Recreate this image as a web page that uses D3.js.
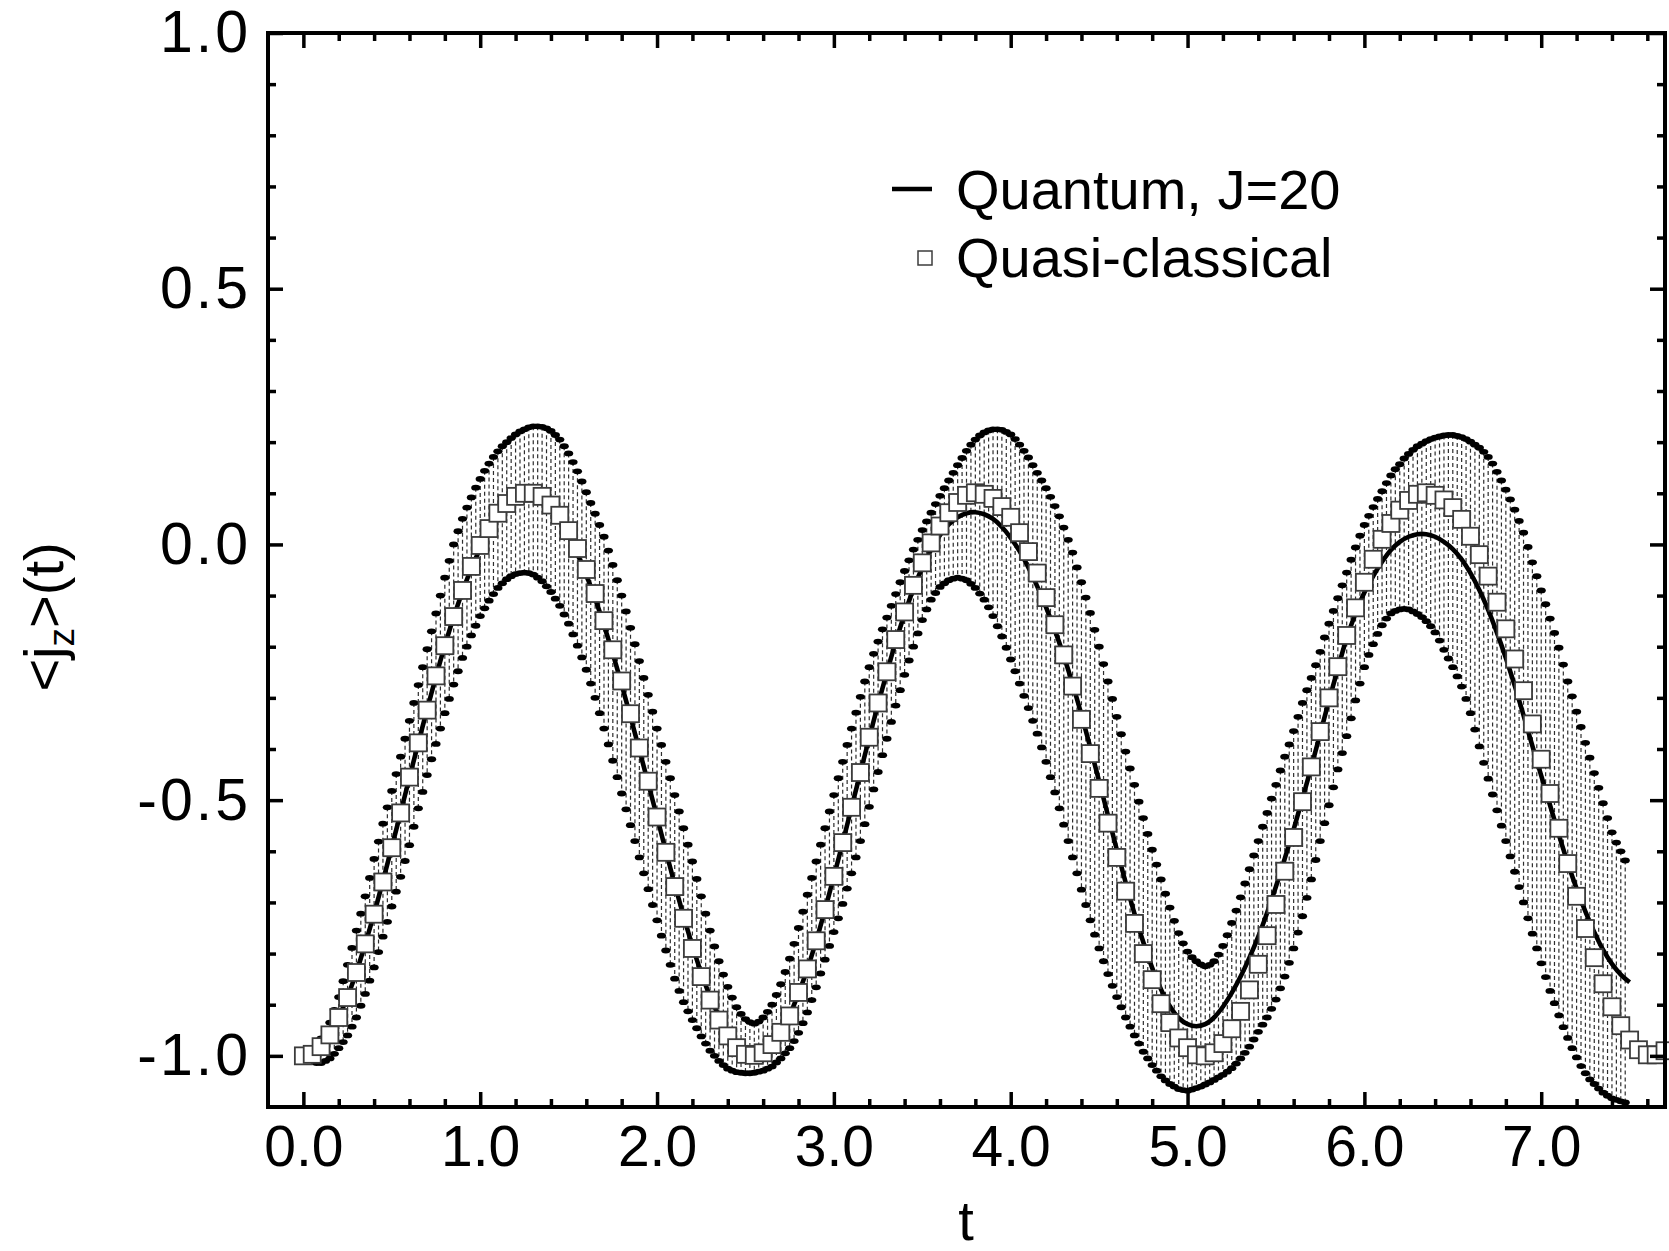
<!DOCTYPE html>
<html>
<head>
<meta charset="utf-8">
<script src="https://cdn.jsdelivr.net/npm/d3@7"></script>
<style>
  html, body { margin: 0; padding: 0; background: #fff; }
  svg { display: block; }
</style>
</head>
<body>
<div id="chart"></div>
<script>
'use strict';

/**
 * Time grids (in units of t).
 */
const lineStep = 0.05;                 // quantum curve and quasi-classical squares
const bandStart = 0.025, bandStep = 0.025;

/**
 * Quantum, J=20 : t = 0 .. 7.5
 */
const quantum = [
  -1.0,-0.997,-0.982,-0.958,-0.924,-0.884,-0.836,-0.781,-0.722,-0.658,-0.592,-0.524,-0.456,-0.388,-0.322,-0.258,-0.198,-0.142,-0.092,-0.047,
  -0.008,0.025,0.052,0.071,0.083,0.089,0.088,0.081,0.066,0.045,0.016,-0.019,-0.06,-0.106,-0.158,-0.214,-0.274,-0.337,-0.402,-0.467,
  -0.533,-0.6,-0.665,-0.727,-0.785,-0.838,-0.884,-0.922,-0.953,-0.975,-0.988,-0.99,-0.985,-0.972,-0.95,-0.92,-0.878,-0.83,-0.775,-0.714,
  -0.649,-0.583,-0.514,-0.446,-0.378,-0.312,-0.25,-0.19,-0.136,-0.087,-0.045,-0.01,0.018,0.039,0.053,0.061,0.063,0.059,0.05,0.034,
  0.013,-0.013,-0.045,-0.082,-0.123,-0.168,-0.218,-0.273,-0.333,-0.397,-0.463,-0.53,-0.597,-0.661,-0.722,-0.778,-0.828,-0.87,-0.903,-0.926,
  -0.938,-0.942,-0.938,-0.925,-0.904,-0.877,-0.845,-0.808,-0.767,-0.72,-0.669,-0.614,-0.557,-0.497,-0.435,-0.37,-0.305,-0.243,-0.183,-0.135,
  -0.094,-0.062,-0.034,-0.011,0.005,0.015,0.02,0.02,0.015,0.005,-0.009,-0.029,-0.056,-0.089,-0.128,-0.173,-0.222,-0.276,-0.334,-0.394,
  -0.452,-0.51,-0.568,-0.623,-0.673,-0.718,-0.758,-0.793,-0.82,-0.841,-0.856
];

/**
 * Quasi-classical : t = 0 .. 7.7
 */
const quasiClassical = [
  -1.0,-0.997,-0.982,-0.959,-0.925,-0.886,-0.837,-0.781,-0.723,-0.66,-0.593,-0.525,-0.455,-0.388,-0.324,-0.257,-0.198,-0.141,-0.09,-0.043,
  -0.002,0.031,0.061,0.08,0.094,0.1,0.1,0.094,0.077,0.057,0.027,-0.008,-0.049,-0.096,-0.149,-0.206,-0.267,-0.331,-0.398,-0.463,
  -0.533,-0.602,-0.669,-0.731,-0.79,-0.845,-0.891,-0.93,-0.961,-0.984,-0.997,-0.999,-0.994,-0.978,-0.954,-0.922,-0.876,-0.83,-0.775,-0.714,
  -0.649,-0.583,-0.514,-0.446,-0.377,-0.31,-0.249,-0.186,-0.132,-0.08,-0.036,0.003,0.036,0.062,0.082,0.096,0.101,0.098,0.09,0.074,
  0.053,0.023,-0.014,-0.056,-0.104,-0.157,-0.216,-0.277,-0.342,-0.409,-0.477,-0.545,-0.612,-0.678,-0.741,-0.8,-0.851,-0.898,-0.935,-0.965,
  -0.984,-0.998,-1.0,-0.994,-0.976,-0.947,-0.913,-0.871,-0.821,-0.765,-0.704,-0.639,-0.573,-0.503,-0.435,-0.366,-0.3,-0.239,-0.178,-0.124,
  -0.074,-0.029,0.01,0.041,0.067,0.086,0.098,0.101,0.096,0.087,0.072,0.049,0.016,-0.02,-0.062,-0.113,-0.165,-0.224,-0.286,-0.351,
  -0.42,-0.487,-0.555,-0.624,-0.688,-0.751,-0.808,-0.859,-0.904,-0.941,-0.969,-0.988,-0.998,-0.998,-0.99
];

/**
 * Spread band, upper and lower ends : t = 0.025 .. 7.475
 */
const bandUpper = [
  -0.996,-0.99,-0.978,-0.966,-0.951,-0.935,-0.91,-0.885,-0.854,-0.822,-0.789,-0.755,-0.722,-0.688,-0.652,-0.615,-0.581,-0.546,-0.514,-0.482,
  -0.449,-0.415,-0.38,-0.345,-0.31,-0.275,-0.24,-0.205,-0.17,-0.135,-0.1,-0.065,-0.032,0.0,0.026,0.05,0.072,0.092,0.111,0.128,
  0.144,0.158,0.171,0.182,0.192,0.2,0.208,0.215,0.221,0.225,0.229,0.231,0.231,0.23,0.227,0.222,0.214,0.205,0.192,0.178,
  0.161,0.143,0.123,0.102,0.081,0.06,0.038,0.015,-0.012,-0.04,-0.07,-0.1,-0.131,-0.163,-0.195,-0.228,-0.261,-0.294,-0.327,-0.36,
  -0.392,-0.425,-0.457,-0.49,-0.522,-0.555,-0.587,-0.62,-0.654,-0.688,-0.722,-0.755,-0.786,-0.815,-0.841,-0.865,-0.886,-0.905,-0.918,-0.928,
  -0.934,-0.937,-0.933,-0.925,-0.914,-0.9,-0.881,-0.86,-0.836,-0.81,-0.781,-0.75,-0.718,-0.685,-0.652,-0.62,-0.587,-0.555,-0.522,-0.49,
  -0.457,-0.425,-0.392,-0.36,-0.329,-0.298,-0.268,-0.24,-0.214,-0.19,-0.166,-0.143,-0.12,-0.097,-0.074,-0.052,-0.031,-0.01,0.009,0.028,
  0.045,0.062,0.079,0.095,0.11,0.125,0.14,0.155,0.169,0.183,0.195,0.205,0.213,0.219,0.223,0.225,0.225,0.224,0.22,0.215,
  0.206,0.195,0.183,0.17,0.155,0.14,0.125,0.11,0.093,0.075,0.055,0.033,0.009,-0.016,-0.045,-0.074,-0.104,-0.134,-0.167,-0.2,
  -0.234,-0.268,-0.302,-0.337,-0.371,-0.405,-0.438,-0.47,-0.503,-0.535,-0.566,-0.597,-0.626,-0.655,-0.683,-0.71,-0.736,-0.76,-0.78,-0.796,
  -0.807,-0.815,-0.821,-0.825,-0.822,-0.815,-0.802,-0.785,-0.764,-0.74,-0.716,-0.69,-0.663,-0.635,-0.608,-0.58,-0.552,-0.525,-0.497,-0.47,
  -0.442,-0.415,-0.391,-0.365,-0.337,-0.31,-0.285,-0.261,-0.236,-0.21,-0.182,-0.155,-0.13,-0.105,-0.08,-0.055,-0.03,-0.006,0.017,0.038,
  0.056,0.073,0.089,0.104,0.12,0.135,0.147,0.157,0.168,0.177,0.185,0.192,0.197,0.202,0.206,0.209,0.211,0.213,0.214,0.214,
  0.212,0.21,0.206,0.201,0.195,0.189,0.181,0.171,0.158,0.142,0.125,0.107,0.088,0.068,0.046,0.023,-0.005,-0.035,-0.062,-0.09,
  -0.117,-0.145,-0.173,-0.202,-0.235,-0.268,-0.297,-0.327,-0.357,-0.388,-0.417,-0.447,-0.476,-0.506,-0.535,-0.563,-0.583,-0.6,-0.618
];

const bandLower = [
  -1.006,-1.012,-1.014,-1.014,-1.01,-1.005,-0.996,-0.985,-0.973,-0.96,-0.943,-0.925,-0.902,-0.879,-0.853,-0.827,-0.797,-0.767,-0.738,-0.708,
  -0.679,-0.65,-0.619,-0.588,-0.552,-0.516,-0.484,-0.451,-0.42,-0.39,-0.36,-0.33,-0.302,-0.274,-0.248,-0.222,-0.2,-0.178,-0.159,-0.14,
  -0.125,-0.11,-0.097,-0.085,-0.076,-0.068,-0.062,-0.058,-0.056,-0.055,-0.056,-0.059,-0.065,-0.072,-0.082,-0.093,-0.106,-0.12,-0.137,-0.155,
  -0.176,-0.198,-0.221,-0.245,-0.272,-0.3,-0.33,-0.36,-0.391,-0.423,-0.455,-0.487,-0.518,-0.549,-0.58,-0.612,-0.643,-0.674,-0.705,-0.735,
  -0.765,-0.794,-0.822,-0.849,-0.873,-0.895,-0.913,-0.93,-0.946,-0.962,-0.976,-0.99,-1.0,-1.01,-1.018,-1.025,-1.029,-1.032,-1.033,-1.034,
  -1.034,-1.033,-1.031,-1.029,-1.025,-1.021,-1.013,-1.005,-0.995,-0.985,-0.971,-0.955,-0.936,-0.915,-0.891,-0.866,-0.839,-0.812,-0.785,-0.758,
  -0.731,-0.703,-0.673,-0.643,-0.612,-0.58,-0.547,-0.513,-0.479,-0.445,-0.412,-0.38,-0.347,-0.315,-0.285,-0.255,-0.227,-0.2,-0.174,-0.148,
  -0.127,-0.108,-0.095,-0.083,-0.076,-0.07,-0.067,-0.065,-0.067,-0.07,-0.077,-0.085,-0.096,-0.108,-0.123,-0.14,-0.16,-0.18,-0.202,-0.225,
  -0.248,-0.272,-0.296,-0.32,-0.345,-0.37,-0.397,-0.425,-0.455,-0.485,-0.516,-0.548,-0.58,-0.612,-0.643,-0.675,-0.705,-0.735,-0.763,-0.79,
  -0.815,-0.84,-0.863,-0.885,-0.905,-0.925,-0.943,-0.96,-0.976,-0.992,-1.005,-1.018,-1.029,-1.04,-1.048,-1.055,-1.06,-1.065,-1.067,-1.068,
  -1.066,-1.063,-1.06,-1.056,-1.052,-1.047,-1.042,-1.037,-1.031,-1.024,-1.015,-1.005,-0.994,-0.982,-0.968,-0.953,-0.939,-0.925,-0.908,-0.89,
  -0.868,-0.845,-0.818,-0.79,-0.759,-0.727,-0.691,-0.655,-0.617,-0.58,-0.545,-0.51,-0.475,-0.44,-0.408,-0.375,-0.34,-0.305,-0.272,-0.24,
  -0.216,-0.195,-0.175,-0.158,-0.145,-0.135,-0.13,-0.127,-0.126,-0.127,-0.131,-0.136,-0.142,-0.15,-0.16,-0.172,-0.188,-0.206,-0.223,-0.24,
  -0.258,-0.278,-0.302,-0.33,-0.362,-0.395,-0.427,-0.458,-0.489,-0.52,-0.55,-0.58,-0.61,-0.64,-0.67,-0.7,-0.731,-0.761,-0.79,-0.819,
  -0.846,-0.873,-0.897,-0.921,-0.944,-0.965,-0.985,-1.003,-1.02,-1.034,-1.046,-1.055,-1.064,-1.072,-1.078,-1.083,-1.086,-1.089,-1.091
];

/**
 * Axes ticks and labels.
 */
const xTicks = [0, 1, 2, 3, 4, 5, 6, 7];
const xTickLabels = ["0.0", "1.0", "2.0", "3.0", "4.0", "5.0", "6.0", "7.0"];
const xMinor = [0.2,0.4,0.6,0.8,1.2,1.4,1.6,1.8,2.2,2.4,2.6,2.8,3.2,3.4,3.6,3.8,4.2,4.4,4.6,4.8,5.2,5.4,5.6,5.8,6.2,6.4,6.6,6.8,7.2,7.4,7.6];
const yTicks = [-1, -0.5, 0, 0.5, 1];
const yTickLabels = ["-1.0", "-0.5", "0.0", "0.5", "1.0"];
const yMinor = [-0.9,-0.8,-0.7,-0.6,-0.4,-0.3,-0.2,-0.1,0.1,0.2,0.3,0.4,0.6,0.7,0.8,0.9];
const legendLabels = ["Quantum, J=20", "Quasi-classical"];

const W = 1669, H = 1251;
const FONT = '"Liberation Sans", Arial, Helvetica, sans-serif';
const plot = { left: 268, right: 1665, top: 33, bottom: 1107 };
const LABEL_SIZE = 57;

const svg = d3.select('#chart').append('svg')
  .attr('width', W)
  .attr('height', H)
  .style('font-family', FONT);

svg.append('rect').attr('width', W).attr('height', H).attr('fill', '#fff');

const x = d3.scaleLinear().domain([-0.2, 7.7]).range([plot.left, plot.right]);
const y = d3.scaleLinear().domain([-1.1, 1.0]).range([plot.bottom, plot.top]);

// Spread band: dashed vertical bars with flat caps at both ends.
const band = bandUpper.map((u, i) => ({ t: bandStart + i * bandStep, hi: u, lo: bandLower[i] }));

svg.append('g').selectAll('line')
  .data(band)
  .join('line')
  .attr('x1', d => x(d.t))
  .attr('x2', d => x(d.t))
  .attr('y1', d => y(d.hi))
  .attr('y2', d => y(d.lo))
  .attr('stroke', '#2e2e2e')
  .attr('stroke-width', 1.2)
  .attr('stroke-dasharray', '4,3');

const caps = svg.append('g');
['hi', 'lo'].forEach(k => {
  caps.selectAll('ellipse.' + k)
    .data(band)
    .join('ellipse')
    .attr('class', k)
    .attr('cx', d => x(d.t))
    .attr('cy', d => y(d[k]))
    .attr('rx', 4.6)
    .attr('ry', 2.9)
    .attr('fill', '#000');
});

// Quantum curve.
const line = d3.line()
  .x((d, i) => x(i * lineStep))
  .y(d => y(d))
  .curve(d3.curveCatmullRom);

svg.append('path')
  .datum(quantum)
  .attr('fill', 'none')
  .attr('stroke', '#000')
  .attr('stroke-width', 4.6)
  .attr('d', line);

// Quasi-classical squares.
const sq = 17;
svg.append('g').selectAll('rect')
  .data(quasiClassical)
  .join('rect')
  .attr('x', (d, i) => x(i * lineStep) - sq / 2)
  .attr('y', d => y(d) - sq / 2)
  .attr('width', sq)
  .attr('height', sq)
  .attr('fill', '#fff')
  .attr('stroke', '#3c3c3c')
  .attr('stroke-width', 1.8);

// Frame and ticks on all four sides, pointing inwards.
function styleAxis(g) {
  g.select('.domain').remove();
  g.selectAll('.tick line').attr('stroke', '#000').attr('stroke-width', 3.5);
  g.selectAll('.tick text')
    .attr('fill', '#000')
    .attr('font-size', LABEL_SIZE)
    .attr('font-family', FONT);
}

const major = 15, minor = 8;

svg.append('g')
  .attr('transform', `translate(0,${plot.bottom})`)
  .call(d3.axisBottom(x).tickValues(xTicks).tickSizeInner(-major).tickSizeOuter(0).tickPadding(19)
    .tickFormat((d, i) => xTickLabels[i]))
  .call(styleAxis);
svg.append('g')
  .attr('transform', `translate(0,${plot.bottom})`)
  .call(d3.axisBottom(x).tickValues(xMinor).tickSizeInner(-minor).tickSizeOuter(0).tickFormat(() => ''))
  .call(styleAxis);
svg.append('g')
  .attr('transform', `translate(0,${plot.top})`)
  .call(d3.axisTop(x).tickValues(xTicks).tickSizeInner(-major).tickSizeOuter(0).tickFormat(() => ''))
  .call(styleAxis);
svg.append('g')
  .attr('transform', `translate(0,${plot.top})`)
  .call(d3.axisTop(x).tickValues(xMinor).tickSizeInner(-minor).tickSizeOuter(0).tickFormat(() => ''))
  .call(styleAxis);

svg.append('g')
  .attr('transform', `translate(${plot.left},0)`)
  .call(d3.axisLeft(y).tickValues(yTicks).tickSizeInner(-major).tickSizeOuter(0).tickPadding(17)
    .tickFormat((d, i) => yTickLabels[i]))
  .call(styleAxis)
  .call(g => g.selectAll('.tick text').attr('font-size', 59).attr('letter-spacing', 3));
svg.append('g')
  .attr('transform', `translate(${plot.left},0)`)
  .call(d3.axisLeft(y).tickValues(yMinor).tickSizeInner(-minor).tickSizeOuter(0).tickFormat(() => ''))
  .call(styleAxis);
svg.append('g')
  .attr('transform', `translate(${plot.right},0)`)
  .call(d3.axisRight(y).tickValues(yTicks).tickSizeInner(-major).tickSizeOuter(0).tickFormat(() => ''))
  .call(styleAxis);
svg.append('g')
  .attr('transform', `translate(${plot.right},0)`)
  .call(d3.axisRight(y).tickValues(yMinor).tickSizeInner(-minor).tickSizeOuter(0).tickFormat(() => ''))
  .call(styleAxis);

svg.append('rect')
  .attr('x', plot.left)
  .attr('y', plot.top)
  .attr('width', plot.right - plot.left)
  .attr('height', plot.bottom - plot.top)
  .attr('fill', 'none')
  .attr('stroke', '#000')
  .attr('stroke-width', 4);

// Axis titles.
svg.append('text')
  .attr('x', 966)
  .attr('y', 1240)
  .attr('text-anchor', 'middle')
  .attr('font-size', 56)
  .text('t');

const yTitle = svg.append('text')
  .attr('transform', 'translate(63,617) rotate(-90)')
  .attr('text-anchor', 'middle')
  .attr('font-size', 56);
yTitle.append('tspan').text('<j');
yTitle.append('tspan').attr('font-size', 37).attr('dy', 11).text('z');
yTitle.append('tspan').attr('dy', -11).text('>(t)');

// Legend.
const legend = svg.append('g').attr('font-size', 56);
legend.append('line')
  .attr('x1', 892).attr('x2', 932)
  .attr('y1', 189).attr('y2', 189)
  .attr('stroke', '#000')
  .attr('stroke-width', 4.6);
legend.append('text').attr('x', 956).attr('y', 209).text(legendLabels[0]);
legend.append('rect')
  .attr('x', 918).attr('y', 251)
  .attr('width', 14).attr('height', 14)
  .attr('fill', '#fff')
  .attr('stroke', '#3c3c3c')
  .attr('stroke-width', 1.5);
legend.append('text').attr('x', 956).attr('y', 277).text(legendLabels[1]);
</script>
</body>
</html>
